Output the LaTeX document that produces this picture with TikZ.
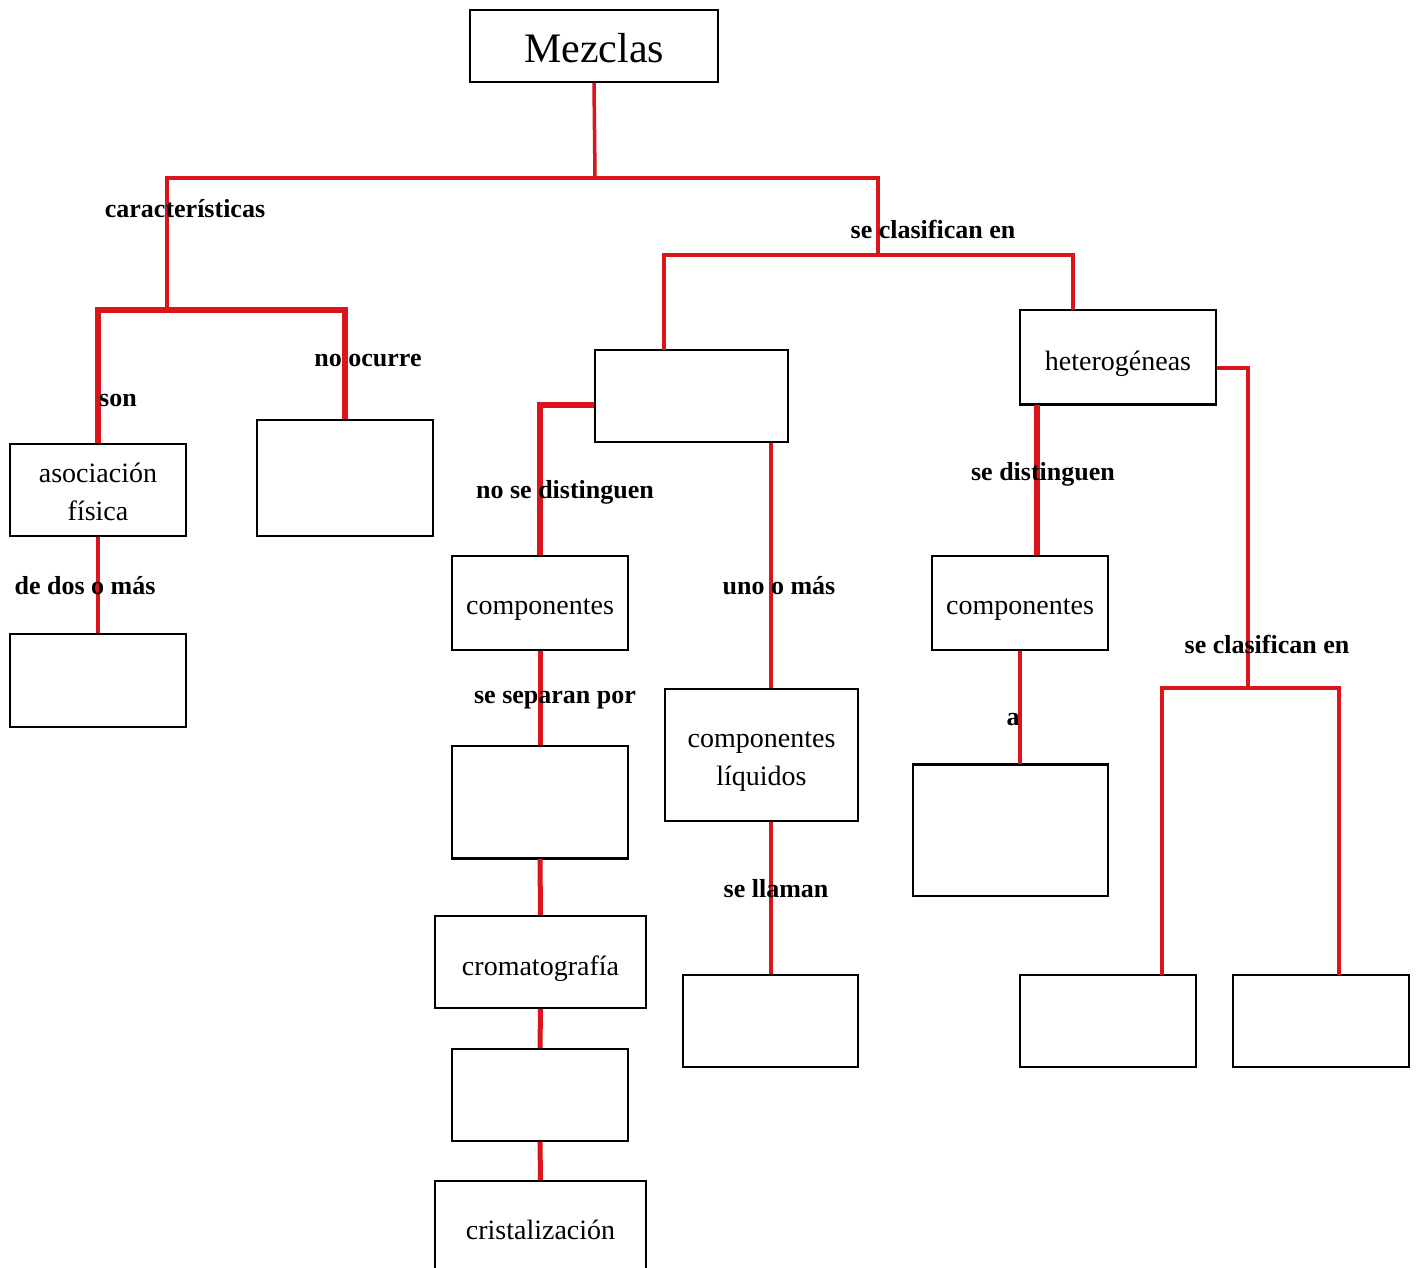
\documentclass[tikz,border=0pt]{standalone}
\usepackage{fontspec}
\setmainfont{Liberation Serif}
\definecolor{lred}{RGB}{218,22,28}
\newcommand{\dn}[1]{\raisebox{-7pt}[\height][\depth]{#1}}
\begin{document}
\begin{tikzpicture}[x=1pt,y=-1pt,
  box/.style={draw=black,line width=1.6pt,fill=white,inner sep=0pt,font=\fontsize{28}{38}\selectfont,align=center},
  lab/.style={font=\bfseries\fontsize{26}{30}\selectfont,inner sep=0pt},
  con/.style={draw=lred,line width=3.5pt},
  mid/.style={draw=lred,line width=5pt},
  thk/.style={draw=lred,line width=6pt}]
\useasboundingbox (0,0) rectangle (1418,1267);
\fill[white] (0,0) rectangle (1418,1267);

\coordinate (j1) at (595,178);
\coordinate (jL) at (167,178);
\coordinate (jR) at (878,178);
\coordinate (jL2) at (167,310);
\coordinate (jR2) at (878,255);
\coordinate (hx) at (664,350);
\coordinate (hy) at (1073,310);
\coordinate (xs) at (1037,0);
\coordinate (jH) at (1248,688);
\coordinate (b1t) at (1162,975);
\coordinate (b2t) at (1339,975);
\coordinate (lx) at (771,0);

% boxes
\node[box,minimum width=248pt,minimum height=72pt,font=\fontsize{42}{48}\selectfont] (mez) at (594,46) {\raisebox{-2pt}[\height][\depth]{Mezclas}};
\node[box,minimum width=176pt,minimum height=92pt] (asoc) at (98,490) {\raisebox{-2pt}[\height][\depth]{asociación}\\\raisebox{-2pt}[\height][\depth]{física}};
\node[box,minimum width=176pt,minimum height=116pt] (noc) at (345,478) {};
\node[box,minimum width=176pt,minimum height=93pt] (dos) at (98,680.5) {};
\node[box,minimum width=193pt,minimum height=92pt] (hom) at (691.5,396) {};
\node[box,minimum width=196pt,minimum height=94pt] (het) at (1118,357) {\dn{heterogéneas}};
\node[box,minimum width=176pt,minimum height=94pt] (compL) at (540,603) {\dn{componentes}};
\node[box,minimum width=176pt,minimum height=112pt] (sep) at (540,802) {};
\node[box,minimum width=211pt,minimum height=92pt] (crom) at (540.5,962) {\dn{cromatografía}};
\node[box,minimum width=176pt,minimum height=92pt] (e2) at (540,1095) {};
\node[box,minimum width=211pt,minimum height=98pt] (crist) at (540.5,1230) {cristalización};
\node[box,minimum width=193pt,minimum height=132pt] (liq) at (761.5,755) {\dn{componentes}\\\dn{líquidos}};
\node[box,minimum width=175pt,minimum height=92pt] (llam) at (770.5,1021) {};
\node[box,minimum width=176pt,minimum height=94pt] (compR) at (1020,603) {\dn{componentes}};
\node[box,minimum width=195pt,minimum height=131pt] (abox) at (1010.5,830.5) {};
\node[box,minimum width=176pt,minimum height=92pt] (b1) at (1108,1021) {};
\node[box,minimum width=176pt,minimum height=92pt] (b2) at (1321,1021) {};
\draw[line width=3pt] (sep.south west) -- (sep.south east);
\draw[line width=3pt] (abox.north west) -- (abox.north east);
\draw[line width=2.5pt] (het.south west) -- (het.south east);

% connectors
\draw[con] (mez.south) -- (j1);
\draw[con] (jL2) -- (jL) -- (jR) -- (jR2);
\draw[thk] (asoc.north) |- (jL2) -| (noc.north);
\draw[con] (asoc.south) -- (dos.north);
\draw[con] (hx) |- (jR2) -| (hy);
\draw[thk] ([yshift=-9pt]hom.west) -| (compL.north);
\draw[mid] (compL.south) -- (sep.north);
\draw[mid] (sep.south) -- (crom.north);
\draw[mid] (crom.south) -- (e2.north);
\draw[mid] (e2.south) -- (crist.north);
\draw[con] (hom.south -| lx) -- (liq.north -| lx);
\draw[con] (liq.south -| lx) -- (llam.north -| lx);
\draw[thk] (het.south -| xs) -- (compR.north -| xs);
\draw[con] (compR.south) -- (compR.south |- abox.north);
\draw[con] ([yshift=-11pt]het.east) -| (jH);
\draw[con] (b1t) |- (jH) -| (b2t);

% labels
\node[lab] (l1) at (185,209) {características};
\node[lab] (l2) at (118,400) {son};
\node[lab] (l3) at (368,360) {no ocurre};
\node[lab] (l4) at (85,586) {de dos o más};
\node[lab] (l5) at (933,229) {se clasifican en};
\node[lab] (l6) at (565,492) {no se distinguen};
\node[lab] (l7) at (779,586) {uno o más};
\node[lab] (l8) at (555,700) {se separan por};
\node[lab] (l9) at (776,889) {se llaman};
\node[lab] (l10) at (1043,474) {se distinguen};
\node[lab] (l11) at (1267,644) {se clasifican en};
\node[lab] (l12) at (1013,720) {a};
\end{tikzpicture}
\end{document}
